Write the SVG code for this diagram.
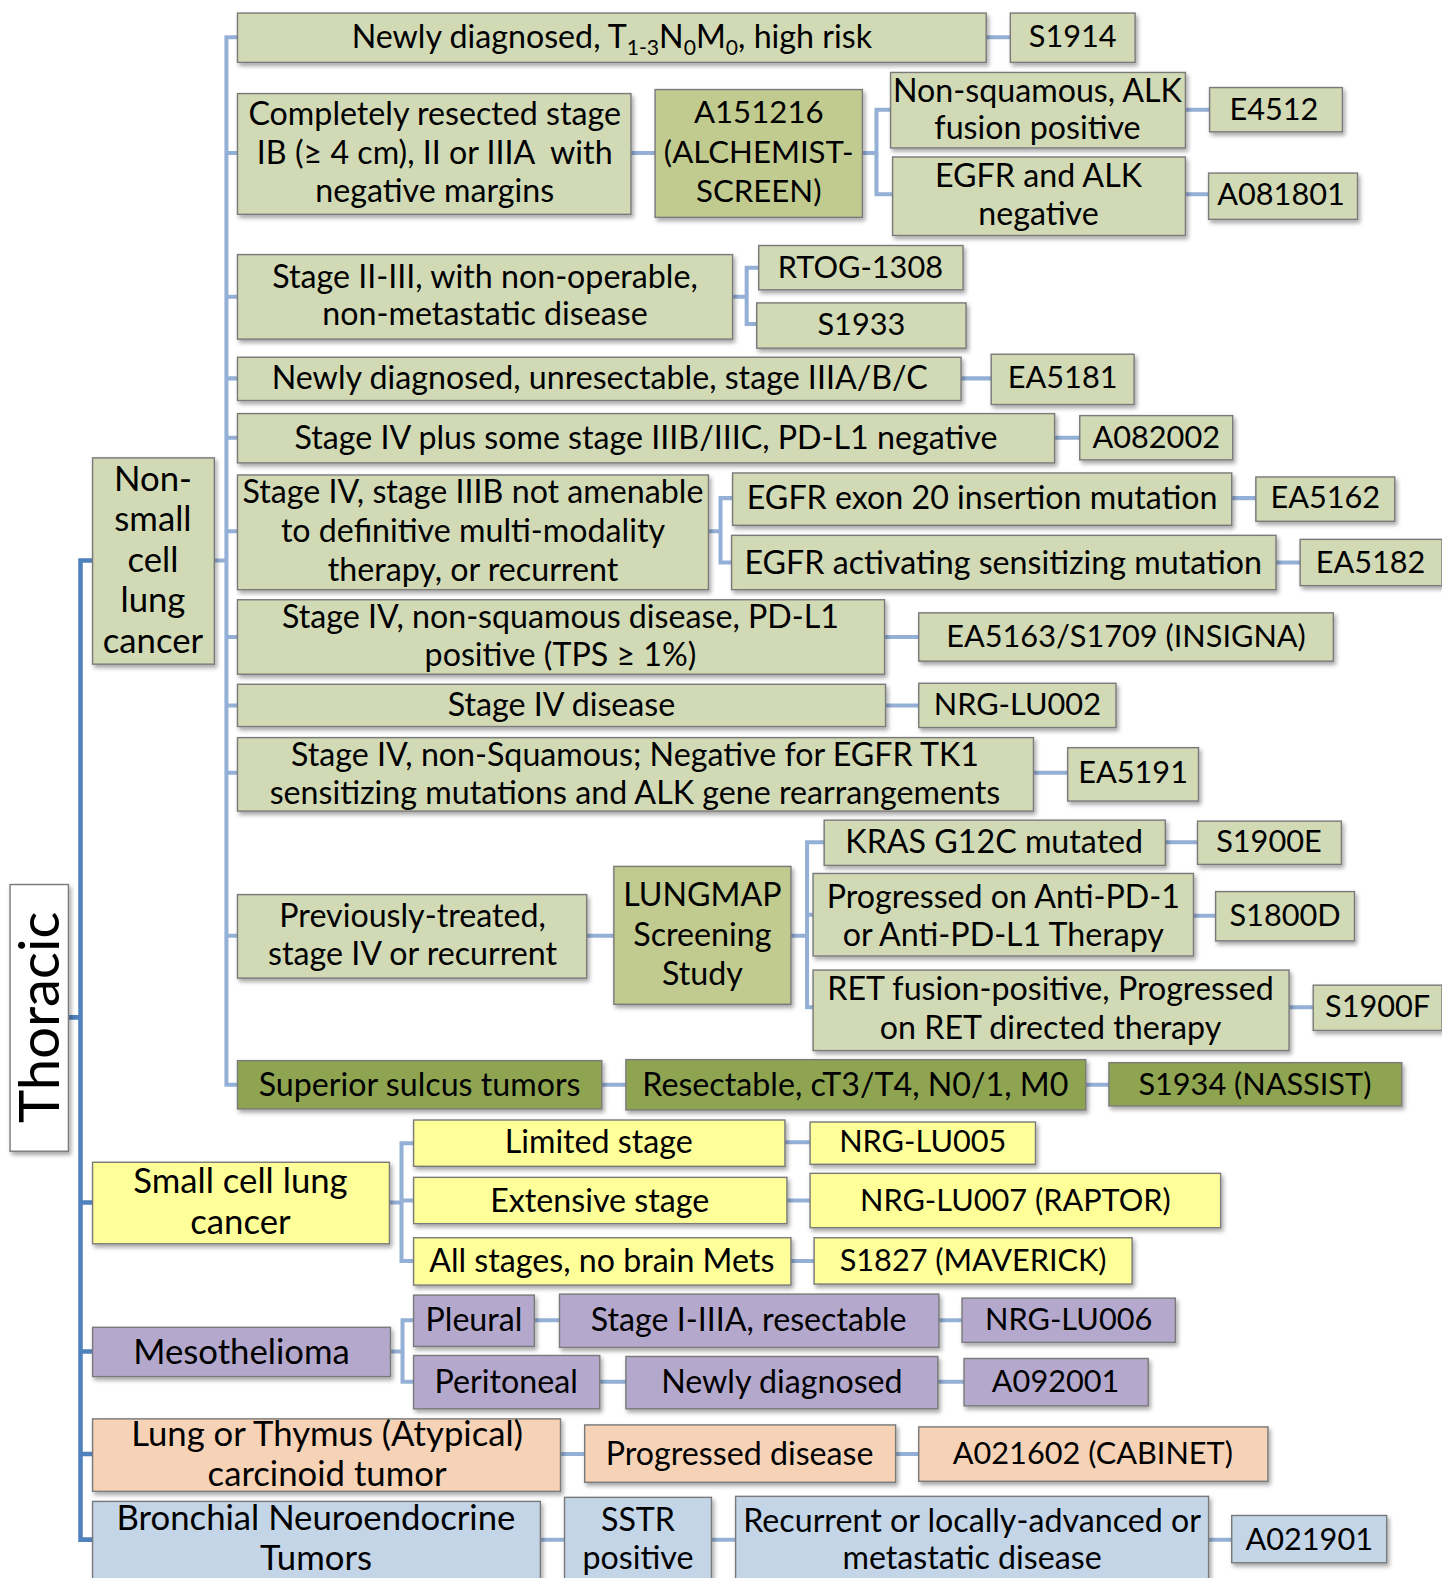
<svg xmlns="http://www.w3.org/2000/svg" width="1442" height="1578" viewBox="0 0 1442 1578">
<defs>
<filter id="sh" x="-10%" y="-10%" width="130%" height="140%">
<feDropShadow dx="2" dy="3" stdDeviation="2" flood-color="#000" flood-opacity="0.35"/>
</filter>
<style>
.b{stroke:#7a7a7a;stroke-width:1.4;filter:url(#sh)}
.g{fill:#d1dab5}.dg{fill:#c2cb8f}.ol{fill:#8fa451}.y{fill:#ffff99}.p{fill:#b4a8cc}.pe{fill:#f6d3b6}.bl{fill:#c3d5e7}.w{fill:#fff}
text{font-family:Lato,"Open Sans","Liberation Sans",sans-serif;font-size:32px;text-anchor:middle;fill:#000}
text.i{font-size:30.5px}
text.L{font-size:34.5px}
text.s{font-size:31px}
.c{stroke:#94b0d6;stroke-width:4;fill:none}
.m{stroke:#4f81bd;stroke-width:4.5;fill:none}
</style>
</defs>
<rect width="1442" height="1578" fill="#fff"/>
<g transform="scale(1.0063)">
<g id="connectors">
<path class="m" d="M92,557 H80 V1530 H92 M80,1195 H92 M80,1343 H92 M80,1445 H92 M68,1011 H80"/>
<path class="c" d="M213,557 H225 M236,37 H225 V1078 H236 M225,152 H236 M225,295 H236 M225,376 H236 M225,435 H236 M225,528 H236 M225,633 H236 M225,701 H236 M225,768 H236 M225,930 H236"/>
<path class="c" d="M980,37 H1004 M627,152 H651 M857,152 H871 M885,109 H871 V193 H887 M1178,109 H1202 M1178,193 H1201"/>
<path class="c" d="M728,295 H742 M754,266 H742 V322 H752 M955,376 H985 M1048,435 H1073"/>
<path class="c" d="M704,528 H716 M728,495 H716 V559 H727 M1224,495 H1248 M1268,559 H1292 M879,633 H913 M880,701 H913 M1027,768 H1061"/>
<path class="c" d="M583,930 H610 M786,930 H802 M819,837 H802 V1001 H808 M802,909 H808 M1158,837 H1190 M1186,910 H1208 M1281,1001 H1305 M598,1078 H622 M1079,1078 H1102"/>
<path class="c" d="M387,1195 H399 M411,1136 H399 V1253 H411 M399,1193 H411 M780,1135 H805 M782,1193 H805 M786,1253 H809"/>
<path class="c" d="M388,1343 H400 M411,1312 H400 V1373 H411 M531,1312 H556 M933,1312 H956 M596,1373 H622 M932,1373 H958"/>
<path class="c" d="M557,1445 H581 M890,1445 H913 M537,1530 H561 M707,1530 H731 M1201,1530 H1224"/>
</g>

<g id="thoracic"><rect class="b w" x="10" y="879" width="58" height="265"/><text transform="translate(59,1011) rotate(-90)" style="font-size:56px" textLength="210" lengthAdjust="spacingAndGlyphs">Thoracic</text></g>

<g id="nsclc"><rect class="b g" x="92" y="455" width="121" height="205"/><text class="L" x="152" y="488">Non-</text><text class="L" x="152" y="528">small</text><text class="L" x="152" y="568">cell</text><text class="L" x="152" y="608">lung</text><text class="L" x="152" y="649">cancer</text></g>

<g id="n1"><rect class="b g" x="236" y="13" width="744" height="49"/><text x="608" y="48">Newly diagnosed, T<tspan font-size="21" dy="7">1-3</tspan><tspan dy="-7">N</tspan><tspan font-size="21" dy="7">0</tspan><tspan dy="-7">M</tspan><tspan font-size="21" dy="7">0</tspan><tspan dy="-7">, high risk</tspan></text></g>
<g id="s1914"><rect class="b g" x="1004" y="13" width="124" height="49"/><text class="i" x="1066" y="47">S1914</text></g>

<g id="n2"><rect class="b g" x="236" y="93" width="391" height="120"/><text x="432" y="124">Completely resected stage</text><text x="432" y="163">IB (≥ 4 cm), II or IIIA &#160;with</text><text x="432" y="201">negative margins</text></g>
<g id="a151216"><rect class="b dg" x="651" y="89" width="206" height="127"/><text class="s" x="754" y="122">A151216</text><text class="s" x="754" y="162">(ALCHEMIST-</text><text class="s" x="754" y="201">SCREEN)</text></g>
<g id="alkpos"><rect class="b g" x="885" y="72" width="293" height="75"/><text x="1031" y="101">Non-squamous, ALK</text><text x="1031" y="138">fusion positive</text></g>
<g id="e4512"><rect class="b g" x="1202" y="87" width="132" height="44"/><text class="i" x="1266" y="119">E4512</text></g>
<g id="alkneg"><rect class="b g" x="887" y="156" width="291" height="78"/><text x="1032" y="186">EGFR and ALK</text><text x="1032" y="224">negative</text></g>
<g id="a081801"><rect class="b g" x="1201" y="172" width="148" height="46"/><text class="i" x="1273" y="204">A081801</text></g>

<g id="n3"><rect class="b g" x="236" y="253" width="492" height="84"/><text x="482" y="286">Stage II-III, with non-operable,</text><text x="482" y="323">non-metastatic disease</text></g>
<g id="rtog1308"><rect class="b g" x="754" y="244" width="203" height="44"/><text class="i" x="855" y="276">RTOG-1308</text></g>
<g id="s1933"><rect class="b g" x="752" y="301" width="208" height="45"/><text class="i" x="856" y="333">S1933</text></g>

<g id="n4"><rect class="b g" x="236" y="355" width="719" height="43"/><text x="596" y="387">Newly diagnosed, unresectable, stage IIIA/B/C</text></g>
<g id="ea5181"><rect class="b g" x="985" y="352" width="142" height="50"/><text class="i" x="1056" y="386">EA5181</text></g>

<g id="n5"><rect class="b g" x="236" y="411" width="812" height="49"/><text x="642" y="446">Stage IV plus some stage IIIB/IIIC, PD-L1 negative</text></g>
<g id="a082002"><rect class="b g" x="1073" y="413" width="152" height="44"/><text class="i" x="1149" y="445">A082002</text></g>

<g id="n6"><rect class="b g" x="236" y="472" width="468" height="114"/><text x="470" y="500">Stage IV, stage IIIB not amenable</text><text x="470" y="539">to definitive multi-modality</text><text x="470" y="577">therapy, or recurrent</text></g>
<g id="egfr20"><rect class="b g" x="728" y="470" width="496" height="52"/><text x="976" y="506">EGFR exon 20 insertion mutation</text></g>
<g id="ea5162"><rect class="b g" x="1248" y="474" width="138" height="44"/><text class="i" x="1317" y="505">EA5162</text></g>
<g id="egfract"><rect class="b g" x="727" y="532" width="541" height="54"/><text x="997" y="570">EGFR activating sensitizing mutation</text></g>
<g id="ea5182"><rect class="b g" x="1292" y="536" width="141" height="46"/><text class="i" x="1362" y="569">EA5182</text></g>

<g id="n7"><rect class="b g" x="236" y="596" width="643" height="74"/><text x="557" y="624">Stage IV, non-squamous disease, PD-L1</text><text x="557" y="662">positive (TPS ≥ 1%)</text></g>
<g id="insigna"><rect class="b g" x="913" y="609" width="412" height="48"/><text class="i" x="1119" y="643">EA5163/S1709 (INSIGNA)</text></g>

<g id="n8"><rect class="b g" x="236" y="680" width="644" height="42"/><text x="558" y="712">Stage IV disease</text></g>
<g id="nrglu002"><rect class="b g" x="913" y="679" width="196" height="44"/><text class="i" x="1011" y="711">NRG-LU002</text></g>

<g id="n9"><rect class="b g" x="236" y="733" width="791" height="73"/><text x="631" y="761">Stage IV, non-Squamous; Negative for EGFR TK1</text><text x="631" y="799">sensitizing mutations and ALK gene rearrangements</text></g>
<g id="ea5191"><rect class="b g" x="1061" y="743" width="130" height="53"/><text class="i" x="1126" y="778">EA5191</text></g>

<g id="n10"><rect class="b g" x="236" y="889" width="347" height="83"/><text x="410" y="921">Previously-treated,</text><text x="410" y="959">stage IV or recurrent</text></g>
<g id="lungmap"><rect class="b dg" x="610" y="861" width="176" height="137"/><text x="698" y="900">LUNGMAP</text><text x="698" y="940">Screening</text><text x="698" y="979">Study</text></g>
<g id="kras"><rect class="b g" x="819" y="815" width="339" height="45"/><text x="988" y="848">KRAS G12C mutated</text></g>
<g id="s1900e"><rect class="b g" x="1190" y="816" width="143" height="43"/><text class="i" x="1261" y="847">S1900E</text></g>
<g id="antipd1"><rect class="b g" x="808" y="868" width="378" height="82"/><text x="997" y="902">Progressed on Anti-PD-1</text><text x="997" y="940">or Anti-PD-L1 Therapy</text></g>
<g id="s1800d"><rect class="b g" x="1208" y="886" width="138" height="49"/><text class="i" x="1277" y="920">S1800D</text></g>
<g id="ret"><rect class="b g" x="808" y="964" width="473" height="80"/><text x="1044" y="994">RET fusion-positive, Progressed</text><text x="1044" y="1032">on RET directed therapy</text></g>
<g id="s1900f"><rect class="b g" x="1305" y="979" width="128" height="45"/><text class="i" x="1369" y="1011">S1900F</text></g>

<g id="n11"><rect class="b ol" x="236" y="1054" width="362" height="48"/><text x="417" y="1089">Superior sulcus tumors</text></g>
<g id="resectable"><rect class="b ol" x="622" y="1053" width="457" height="50"/><text x="850" y="1089">Resectable, cT3/T4, N0/1, M0</text></g>
<g id="s1934"><rect class="b ol" x="1102" y="1056" width="291" height="43"/><text class="i" x="1247" y="1088">S1934 (NASSIST)</text></g>

<g id="sclc"><rect class="b y" x="92" y="1155" width="295" height="81"/><text class="L" x="239" y="1186">Small cell lung</text><text class="L" x="239" y="1226">cancer</text></g>
<g id="limited"><rect class="b y" x="411" y="1113" width="369" height="46"/><text x="595" y="1146">Limited stage</text></g>
<g id="nrglu005"><rect class="b y" x="805" y="1115" width="224" height="42"/><text class="i" x="917" y="1145">NRG-LU005</text></g>
<g id="extensive"><rect class="b y" x="411" y="1170" width="371" height="46"/><text x="596" y="1204">Extensive stage</text></g>
<g id="nrglu007"><rect class="b y" x="805" y="1166" width="408" height="54"/><text class="i" x="1009" y="1203">NRG-LU007 (RAPTOR)</text></g>
<g id="allstages"><rect class="b y" x="411" y="1230" width="375" height="47"/><text x="598" y="1264">All stages, no brain Mets</text></g>
<g id="s1827"><rect class="b y" x="809" y="1230" width="316" height="46"/><text class="i" x="967" y="1263">S1827 (MAVERICK)</text></g>

<g id="meso"><rect class="b p" x="92" y="1319" width="296" height="49"/><text class="L" x="240" y="1355">Mesothelioma</text></g>
<g id="pleural"><rect class="b p" x="411" y="1287" width="120" height="51"/><text x="471" y="1323">Pleural</text></g>
<g id="stage1"><rect class="b p" x="556" y="1286" width="377" height="53"/><text x="744" y="1323">Stage I-IIIA, resectable</text></g>
<g id="nrglu006"><rect class="b p" x="956" y="1290" width="212" height="44"/><text class="i" x="1062" y="1322">NRG-LU006</text></g>
<g id="peritoneal"><rect class="b p" x="411" y="1347" width="185" height="53"/><text x="503" y="1384">Peritoneal</text></g>
<g id="newlydx"><rect class="b p" x="622" y="1348" width="310" height="52"/><text x="777" y="1384">Newly diagnosed</text></g>
<g id="a092001"><rect class="b p" x="958" y="1350" width="183" height="47"/><text class="i" x="1049" y="1383">A092001</text></g>

<g id="carcinoid"><rect class="b pe" x="92" y="1410" width="465" height="72"/><text class="L" x="325" y="1437">Lung or Thymus (Atypical)</text><text class="L" x="325" y="1477">carcinoid tumor</text></g>
<g id="progressed"><rect class="b pe" x="581" y="1416" width="309" height="57"/><text x="735" y="1456">Progressed disease</text></g>
<g id="cabinet"><rect class="b pe" x="913" y="1418" width="347" height="54"/><text class="i" x="1086" y="1455">A021602 (CABINET)</text></g>

<g id="bronchial"><rect class="b bl" x="92" y="1492" width="445" height="90"/><text class="L" x="314" y="1520">Bronchial Neuroendocrine</text><text class="L" x="314" y="1560">Tumors</text></g>
<g id="sstr"><rect class="b bl" x="561" y="1488" width="146" height="94"/><text x="634" y="1521">SSTR</text><text x="634" y="1559">positive</text></g>
<g id="recurrent"><rect class="b bl" x="731" y="1487" width="470" height="95"/><text x="966" y="1522">Recurrent or locally-advanced or</text><text x="966" y="1559">metastatic disease</text></g>
<g id="a021901"><rect class="b bl" x="1224" y="1506" width="154" height="47"/><text class="i" x="1301" y="1540">A021901</text></g>
</g>
</svg>
